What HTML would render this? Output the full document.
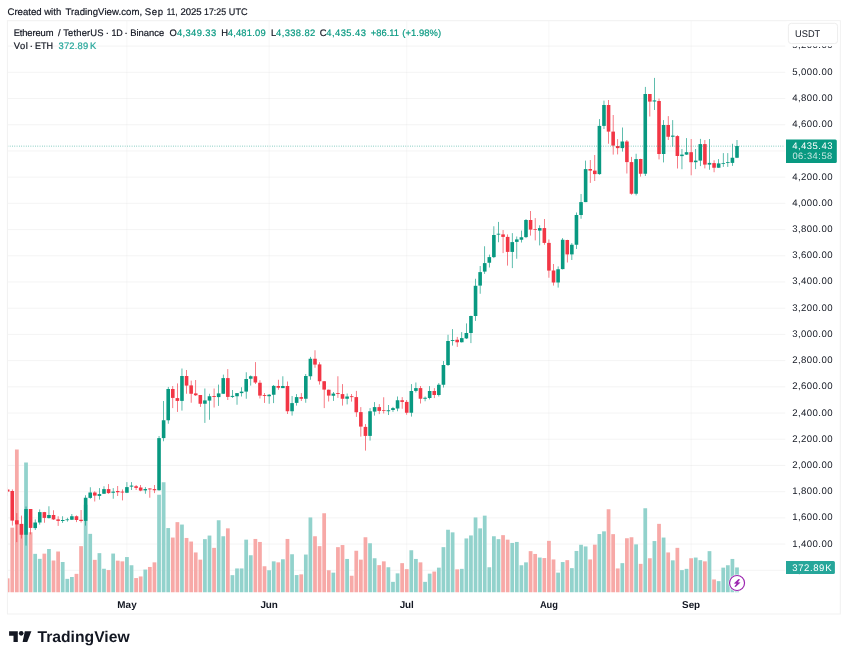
<!DOCTYPE html>
<html><head><meta charset="utf-8"><title>chart</title>
<style>
html,body{margin:0;padding:0;background:#fff;}
body{width:848px;height:660px;position:relative;overflow:hidden;}
svg{position:absolute;left:0;top:0;will-change:transform;}
text{font-family:"Liberation Sans",sans-serif;white-space:pre;text-rendering:geometricPrecision;stroke-width:0;paint-order:stroke;}
.hv text{stroke-width:0.2px;}
</style></head><body>
<svg width="848" height="660" viewBox="0 0 848 660">
<defs><clipPath id="cp"><rect x="7.4" y="20.6" width="833" height="593.4"/></clipPath></defs>
<g clip-path="url(#cp)">
<rect x="7.5" y="569.74" width="777.8" height="1.1" fill="rgba(0,0,0,0.043)"/>
<rect x="7.5" y="543.53" width="777.8" height="1.1" fill="rgba(0,0,0,0.043)"/>
<rect x="7.5" y="517.32" width="777.8" height="1.1" fill="rgba(0,0,0,0.043)"/>
<rect x="7.5" y="491.11" width="777.8" height="1.1" fill="rgba(0,0,0,0.043)"/>
<rect x="7.5" y="464.90" width="777.8" height="1.1" fill="rgba(0,0,0,0.043)"/>
<rect x="7.5" y="438.69" width="777.8" height="1.1" fill="rgba(0,0,0,0.043)"/>
<rect x="7.5" y="412.48" width="777.8" height="1.1" fill="rgba(0,0,0,0.043)"/>
<rect x="7.5" y="386.27" width="777.8" height="1.1" fill="rgba(0,0,0,0.043)"/>
<rect x="7.5" y="360.06" width="777.8" height="1.1" fill="rgba(0,0,0,0.043)"/>
<rect x="7.5" y="333.85" width="777.8" height="1.1" fill="rgba(0,0,0,0.043)"/>
<rect x="7.5" y="307.64" width="777.8" height="1.1" fill="rgba(0,0,0,0.043)"/>
<rect x="7.5" y="281.43" width="777.8" height="1.1" fill="rgba(0,0,0,0.043)"/>
<rect x="7.5" y="255.22" width="777.8" height="1.1" fill="rgba(0,0,0,0.043)"/>
<rect x="7.5" y="229.01" width="777.8" height="1.1" fill="rgba(0,0,0,0.043)"/>
<rect x="7.5" y="202.80" width="777.8" height="1.1" fill="rgba(0,0,0,0.043)"/>
<rect x="7.5" y="176.59" width="777.8" height="1.1" fill="rgba(0,0,0,0.043)"/>
<rect x="7.5" y="150.38" width="777.8" height="1.1" fill="rgba(0,0,0,0.043)"/>
<rect x="7.5" y="124.17" width="777.8" height="1.1" fill="rgba(0,0,0,0.043)"/>
<rect x="7.5" y="97.96" width="777.8" height="1.1" fill="rgba(0,0,0,0.043)"/>
<rect x="7.5" y="71.75" width="777.8" height="1.1" fill="rgba(0,0,0,0.043)"/>
<rect x="7.5" y="45.54" width="777.8" height="1.1" fill="rgba(0,0,0,0.043)"/>
<rect x="126.38" y="21" width="1.1" height="571.5" fill="rgba(0,0,0,0.031)"/>
<rect x="268.57" y="21" width="1.1" height="571.5" fill="rgba(0,0,0,0.031)"/>
<rect x="406.18" y="21" width="1.1" height="571.5" fill="rgba(0,0,0,0.031)"/>
<rect x="548.38" y="21" width="1.1" height="571.5" fill="rgba(0,0,0,0.031)"/>
<rect x="690.58" y="21" width="1.1" height="571.5" fill="rgba(0,0,0,0.031)"/>
<rect x="5.79" y="578.35" width="3.75" height="13.90" fill="#f7a9a7"/>
<rect x="10.38" y="527.65" width="3.75" height="64.60" fill="#f7a9a7"/>
<rect x="14.96" y="449.50" width="3.75" height="142.75" fill="#f7a9a7"/>
<rect x="19.55" y="523.75" width="3.75" height="68.50" fill="#f7a9a7"/>
<rect x="24.14" y="462.50" width="3.75" height="129.75" fill="#92d2cc"/>
<rect x="28.72" y="532.25" width="3.75" height="60.00" fill="#f7a9a7"/>
<rect x="33.31" y="553.85" width="3.75" height="38.40" fill="#92d2cc"/>
<rect x="37.90" y="558.85" width="3.75" height="33.40" fill="#92d2cc"/>
<rect x="42.48" y="553.65" width="3.75" height="38.60" fill="#f7a9a7"/>
<rect x="47.07" y="549.00" width="3.75" height="43.25" fill="#92d2cc"/>
<rect x="51.66" y="560.50" width="3.75" height="31.75" fill="#f7a9a7"/>
<rect x="56.24" y="551.50" width="3.75" height="40.75" fill="#f7a9a7"/>
<rect x="60.83" y="562.00" width="3.75" height="30.25" fill="#92d2cc"/>
<rect x="65.42" y="578.85" width="3.75" height="13.40" fill="#92d2cc"/>
<rect x="70.01" y="577.00" width="3.75" height="15.25" fill="#92d2cc"/>
<rect x="74.59" y="573.85" width="3.75" height="18.40" fill="#f7a9a7"/>
<rect x="79.18" y="546.15" width="3.75" height="46.10" fill="#f7a9a7"/>
<rect x="83.77" y="504.75" width="3.75" height="87.50" fill="#92d2cc"/>
<rect x="88.35" y="533.85" width="3.75" height="58.40" fill="#92d2cc"/>
<rect x="92.94" y="559.85" width="3.75" height="32.40" fill="#f7a9a7"/>
<rect x="97.53" y="553.15" width="3.75" height="39.10" fill="#92d2cc"/>
<rect x="102.11" y="568.75" width="3.75" height="23.50" fill="#92d2cc"/>
<rect x="106.70" y="570.05" width="3.75" height="22.20" fill="#f7a9a7"/>
<rect x="111.29" y="553.55" width="3.75" height="38.70" fill="#92d2cc"/>
<rect x="115.88" y="560.65" width="3.75" height="31.60" fill="#f7a9a7"/>
<rect x="120.46" y="561.35" width="3.75" height="30.90" fill="#f7a9a7"/>
<rect x="125.05" y="557.05" width="3.75" height="35.20" fill="#92d2cc"/>
<rect x="129.64" y="565.25" width="3.75" height="27.00" fill="#92d2cc"/>
<rect x="134.22" y="578.05" width="3.75" height="14.20" fill="#f7a9a7"/>
<rect x="138.81" y="576.45" width="3.75" height="15.80" fill="#f7a9a7"/>
<rect x="143.40" y="569.55" width="3.75" height="22.70" fill="#92d2cc"/>
<rect x="147.98" y="566.95" width="3.75" height="25.30" fill="#f7a9a7"/>
<rect x="152.57" y="562.35" width="3.75" height="29.90" fill="#f7a9a7"/>
<rect x="157.16" y="494.75" width="3.75" height="97.50" fill="#92d2cc"/>
<rect x="161.75" y="482.25" width="3.75" height="110.00" fill="#92d2cc"/>
<rect x="166.33" y="528.05" width="3.75" height="64.20" fill="#92d2cc"/>
<rect x="170.92" y="537.55" width="3.75" height="54.70" fill="#f7a9a7"/>
<rect x="175.51" y="522.15" width="3.75" height="70.10" fill="#f7a9a7"/>
<rect x="180.09" y="524.55" width="3.75" height="67.70" fill="#92d2cc"/>
<rect x="184.68" y="537.95" width="3.75" height="54.30" fill="#f7a9a7"/>
<rect x="189.27" y="541.55" width="3.75" height="50.70" fill="#f7a9a7"/>
<rect x="193.85" y="552.45" width="3.75" height="39.80" fill="#f7a9a7"/>
<rect x="198.44" y="559.65" width="3.75" height="32.60" fill="#f7a9a7"/>
<rect x="203.03" y="539.15" width="3.75" height="53.10" fill="#92d2cc"/>
<rect x="207.62" y="535.55" width="3.75" height="56.70" fill="#92d2cc"/>
<rect x="212.20" y="547.85" width="3.75" height="44.40" fill="#f7a9a7"/>
<rect x="216.79" y="520.25" width="3.75" height="72.00" fill="#92d2cc"/>
<rect x="221.38" y="536.25" width="3.75" height="56.00" fill="#92d2cc"/>
<rect x="225.96" y="528.35" width="3.75" height="63.90" fill="#f7a9a7"/>
<rect x="230.55" y="575.15" width="3.75" height="17.10" fill="#92d2cc"/>
<rect x="235.14" y="568.45" width="3.75" height="23.80" fill="#92d2cc"/>
<rect x="239.72" y="568.45" width="3.75" height="23.80" fill="#92d2cc"/>
<rect x="244.31" y="539.65" width="3.75" height="52.60" fill="#92d2cc"/>
<rect x="248.90" y="555.25" width="3.75" height="37.00" fill="#92d2cc"/>
<rect x="253.49" y="538.95" width="3.75" height="53.30" fill="#f7a9a7"/>
<rect x="258.07" y="541.95" width="3.75" height="50.30" fill="#f7a9a7"/>
<rect x="262.66" y="566.25" width="3.75" height="26.00" fill="#f7a9a7"/>
<rect x="267.25" y="570.25" width="3.75" height="22.00" fill="#92d2cc"/>
<rect x="271.83" y="561.35" width="3.75" height="30.90" fill="#92d2cc"/>
<rect x="276.42" y="562.35" width="3.75" height="29.90" fill="#f7a9a7"/>
<rect x="281.01" y="559.25" width="3.75" height="33.00" fill="#92d2cc"/>
<rect x="285.59" y="538.95" width="3.75" height="53.30" fill="#f7a9a7"/>
<rect x="290.18" y="554.25" width="3.75" height="38.00" fill="#92d2cc"/>
<rect x="294.77" y="575.05" width="3.75" height="17.20" fill="#92d2cc"/>
<rect x="299.36" y="574.35" width="3.75" height="17.90" fill="#f7a9a7"/>
<rect x="303.94" y="554.55" width="3.75" height="37.70" fill="#92d2cc"/>
<rect x="308.53" y="517.45" width="3.75" height="74.80" fill="#92d2cc"/>
<rect x="313.12" y="536.25" width="3.75" height="56.00" fill="#f7a9a7"/>
<rect x="317.70" y="546.15" width="3.75" height="46.10" fill="#f7a9a7"/>
<rect x="322.29" y="513.25" width="3.75" height="79.00" fill="#f7a9a7"/>
<rect x="326.88" y="570.25" width="3.75" height="22.00" fill="#f7a9a7"/>
<rect x="331.46" y="572.65" width="3.75" height="19.60" fill="#92d2cc"/>
<rect x="336.05" y="547.15" width="3.75" height="45.10" fill="#f7a9a7"/>
<rect x="340.64" y="545.05" width="3.75" height="47.20" fill="#f7a9a7"/>
<rect x="345.23" y="558.95" width="3.75" height="33.30" fill="#92d2cc"/>
<rect x="349.81" y="575.75" width="3.75" height="16.50" fill="#f7a9a7"/>
<rect x="354.40" y="550.75" width="3.75" height="41.50" fill="#f7a9a7"/>
<rect x="358.99" y="559.65" width="3.75" height="32.60" fill="#f7a9a7"/>
<rect x="363.57" y="537.25" width="3.75" height="55.00" fill="#f7a9a7"/>
<rect x="368.16" y="543.25" width="3.75" height="49.00" fill="#92d2cc"/>
<rect x="372.75" y="558.25" width="3.75" height="34.00" fill="#92d2cc"/>
<rect x="377.33" y="565.15" width="3.75" height="27.10" fill="#f7a9a7"/>
<rect x="381.92" y="561.35" width="3.75" height="30.90" fill="#f7a9a7"/>
<rect x="386.51" y="567.25" width="3.75" height="25.00" fill="#92d2cc"/>
<rect x="391.10" y="581.85" width="3.75" height="10.40" fill="#92d2cc"/>
<rect x="395.68" y="573.35" width="3.75" height="18.90" fill="#92d2cc"/>
<rect x="400.27" y="563.15" width="3.75" height="29.10" fill="#f7a9a7"/>
<rect x="404.86" y="569.15" width="3.75" height="23.10" fill="#f7a9a7"/>
<rect x="409.44" y="550.25" width="3.75" height="42.00" fill="#92d2cc"/>
<rect x="414.03" y="558.95" width="3.75" height="33.30" fill="#92d2cc"/>
<rect x="418.62" y="562.35" width="3.75" height="29.90" fill="#f7a9a7"/>
<rect x="423.20" y="581.85" width="3.75" height="10.40" fill="#92d2cc"/>
<rect x="427.79" y="573.65" width="3.75" height="18.60" fill="#92d2cc"/>
<rect x="432.38" y="571.55" width="3.75" height="20.70" fill="#f7a9a7"/>
<rect x="436.97" y="567.65" width="3.75" height="24.60" fill="#92d2cc"/>
<rect x="441.55" y="547.15" width="3.75" height="45.10" fill="#92d2cc"/>
<rect x="446.14" y="529.75" width="3.75" height="62.50" fill="#92d2cc"/>
<rect x="450.73" y="532.35" width="3.75" height="59.90" fill="#92d2cc"/>
<rect x="455.31" y="569.35" width="3.75" height="22.90" fill="#f7a9a7"/>
<rect x="459.90" y="568.85" width="3.75" height="23.40" fill="#92d2cc"/>
<rect x="464.49" y="538.45" width="3.75" height="53.80" fill="#92d2cc"/>
<rect x="469.07" y="535.45" width="3.75" height="56.80" fill="#92d2cc"/>
<rect x="473.66" y="517.45" width="3.75" height="74.80" fill="#92d2cc"/>
<rect x="478.25" y="528.35" width="3.75" height="63.90" fill="#92d2cc"/>
<rect x="482.84" y="515.65" width="3.75" height="76.60" fill="#92d2cc"/>
<rect x="487.42" y="567.25" width="3.75" height="25.00" fill="#92d2cc"/>
<rect x="492.01" y="536.25" width="3.75" height="56.00" fill="#92d2cc"/>
<rect x="496.60" y="539.15" width="3.75" height="53.10" fill="#92d2cc"/>
<rect x="501.18" y="535.15" width="3.75" height="57.10" fill="#f7a9a7"/>
<rect x="505.77" y="539.65" width="3.75" height="52.60" fill="#f7a9a7"/>
<rect x="510.36" y="542.95" width="3.75" height="49.30" fill="#92d2cc"/>
<rect x="514.94" y="541.95" width="3.75" height="50.30" fill="#92d2cc"/>
<rect x="519.53" y="565.25" width="3.75" height="27.00" fill="#92d2cc"/>
<rect x="524.12" y="562.35" width="3.75" height="29.90" fill="#92d2cc"/>
<rect x="528.71" y="551.15" width="3.75" height="41.10" fill="#f7a9a7"/>
<rect x="533.29" y="553.95" width="3.75" height="38.30" fill="#f7a9a7"/>
<rect x="537.88" y="557.55" width="3.75" height="34.70" fill="#92d2cc"/>
<rect x="542.47" y="558.05" width="3.75" height="34.20" fill="#f7a9a7"/>
<rect x="547.05" y="540.85" width="3.75" height="51.40" fill="#f7a9a7"/>
<rect x="551.64" y="559.45" width="3.75" height="32.80" fill="#f7a9a7"/>
<rect x="556.23" y="572.65" width="3.75" height="19.60" fill="#92d2cc"/>
<rect x="560.81" y="562.05" width="3.75" height="30.20" fill="#92d2cc"/>
<rect x="565.40" y="560.15" width="3.75" height="32.10" fill="#f7a9a7"/>
<rect x="569.99" y="568.15" width="3.75" height="24.10" fill="#92d2cc"/>
<rect x="574.58" y="550.95" width="3.75" height="41.30" fill="#92d2cc"/>
<rect x="579.16" y="544.75" width="3.75" height="47.50" fill="#92d2cc"/>
<rect x="583.75" y="546.45" width="3.75" height="45.80" fill="#92d2cc"/>
<rect x="588.34" y="559.45" width="3.75" height="32.80" fill="#f7a9a7"/>
<rect x="592.92" y="544.65" width="3.75" height="47.60" fill="#f7a9a7"/>
<rect x="597.51" y="534.05" width="3.75" height="58.20" fill="#92d2cc"/>
<rect x="602.10" y="531.35" width="3.75" height="60.90" fill="#92d2cc"/>
<rect x="606.68" y="509.25" width="3.75" height="83.00" fill="#f7a9a7"/>
<rect x="611.27" y="534.15" width="3.75" height="58.10" fill="#f7a9a7"/>
<rect x="615.86" y="568.45" width="3.75" height="23.80" fill="#f7a9a7"/>
<rect x="620.45" y="563.15" width="3.75" height="29.10" fill="#92d2cc"/>
<rect x="625.03" y="538.25" width="3.75" height="54.00" fill="#f7a9a7"/>
<rect x="629.62" y="537.25" width="3.75" height="55.00" fill="#f7a9a7"/>
<rect x="634.21" y="544.35" width="3.75" height="47.90" fill="#92d2cc"/>
<rect x="638.79" y="563.85" width="3.75" height="28.40" fill="#f7a9a7"/>
<rect x="643.38" y="508.25" width="3.75" height="84.00" fill="#92d2cc"/>
<rect x="647.97" y="558.25" width="3.75" height="34.00" fill="#f7a9a7"/>
<rect x="652.55" y="541.05" width="3.75" height="51.20" fill="#92d2cc"/>
<rect x="657.14" y="523.85" width="3.75" height="68.40" fill="#f7a9a7"/>
<rect x="661.73" y="537.55" width="3.75" height="54.70" fill="#92d2cc"/>
<rect x="666.32" y="552.45" width="3.75" height="39.80" fill="#f7a9a7"/>
<rect x="670.90" y="560.35" width="3.75" height="31.90" fill="#92d2cc"/>
<rect x="675.49" y="547.85" width="3.75" height="44.40" fill="#f7a9a7"/>
<rect x="680.08" y="570.10" width="3.75" height="22.15" fill="#92d2cc"/>
<rect x="684.66" y="568.85" width="3.75" height="23.40" fill="#92d2cc"/>
<rect x="689.25" y="558.25" width="3.75" height="34.00" fill="#f7a9a7"/>
<rect x="693.84" y="557.55" width="3.75" height="34.70" fill="#92d2cc"/>
<rect x="698.42" y="560.15" width="3.75" height="32.10" fill="#92d2cc"/>
<rect x="703.01" y="561.35" width="3.75" height="30.90" fill="#f7a9a7"/>
<rect x="707.60" y="551.15" width="3.75" height="41.10" fill="#92d2cc"/>
<rect x="712.19" y="579.45" width="3.75" height="12.80" fill="#f7a9a7"/>
<rect x="716.77" y="581.15" width="3.75" height="11.10" fill="#92d2cc"/>
<rect x="721.36" y="567.65" width="3.75" height="24.60" fill="#92d2cc"/>
<rect x="725.95" y="565.25" width="3.75" height="27.00" fill="#92d2cc"/>
<rect x="730.53" y="558.95" width="3.75" height="33.30" fill="#92d2cc"/>
<rect x="735.12" y="567.45" width="3.75" height="24.80" fill="#92d2cc"/>
<rect x="7.34" y="487.50" width="0.65" height="8.50" fill="#f23645"/>
<rect x="5.86" y="489.50" width="3.6" height="2.10" fill="#f23645"/>
<rect x="11.93" y="489.40" width="0.65" height="36.20" fill="#f23645"/>
<rect x="10.45" y="491.00" width="3.6" height="29.60" fill="#f23645"/>
<rect x="16.51" y="513.10" width="0.65" height="29.00" fill="#f23645"/>
<rect x="15.04" y="520.25" width="3.6" height="4.15" fill="#f23645"/>
<rect x="21.10" y="515.60" width="0.65" height="22.90" fill="#f23645"/>
<rect x="19.62" y="524.00" width="3.6" height="10.75" fill="#f23645"/>
<rect x="25.69" y="506.50" width="0.65" height="39.10" fill="#089981"/>
<rect x="24.21" y="509.00" width="3.6" height="25.75" fill="#089981"/>
<rect x="30.27" y="509.00" width="0.65" height="25.40" fill="#f23645"/>
<rect x="28.80" y="509.00" width="3.6" height="18.90" fill="#f23645"/>
<rect x="34.86" y="519.40" width="0.65" height="10.60" fill="#089981"/>
<rect x="33.39" y="522.50" width="3.6" height="5.60" fill="#089981"/>
<rect x="39.45" y="509.40" width="0.65" height="15.20" fill="#089981"/>
<rect x="37.97" y="512.10" width="3.6" height="10.40" fill="#089981"/>
<rect x="44.03" y="511.90" width="0.65" height="10.85" fill="#f23645"/>
<rect x="42.56" y="512.10" width="3.6" height="5.80" fill="#f23645"/>
<rect x="48.62" y="506.25" width="0.65" height="12.25" fill="#089981"/>
<rect x="47.15" y="515.00" width="3.6" height="3.10" fill="#089981"/>
<rect x="53.21" y="510.25" width="0.65" height="9.75" fill="#f23645"/>
<rect x="51.73" y="515.00" width="3.6" height="4.40" fill="#f23645"/>
<rect x="57.79" y="516.25" width="0.65" height="9.65" fill="#f23645"/>
<rect x="56.32" y="519.40" width="3.6" height="1.50" fill="#f23645"/>
<rect x="62.38" y="516.25" width="0.65" height="6.65" fill="#089981"/>
<rect x="60.91" y="520.00" width="3.6" height="1.00" fill="#089981"/>
<rect x="66.97" y="517.75" width="0.65" height="3.85" fill="#089981"/>
<rect x="65.49" y="519.40" width="3.6" height="0.75" fill="#089981"/>
<rect x="71.56" y="514.00" width="0.65" height="6.00" fill="#089981"/>
<rect x="70.08" y="516.25" width="3.6" height="3.50" fill="#089981"/>
<rect x="76.14" y="515.40" width="0.65" height="6.70" fill="#f23645"/>
<rect x="74.67" y="516.25" width="3.6" height="3.75" fill="#f23645"/>
<rect x="80.73" y="510.00" width="0.65" height="12.50" fill="#f23645"/>
<rect x="79.25" y="519.75" width="3.6" height="1.25" fill="#f23645"/>
<rect x="85.32" y="495.25" width="0.65" height="30.35" fill="#089981"/>
<rect x="83.84" y="497.75" width="3.6" height="23.15" fill="#089981"/>
<rect x="89.90" y="487.25" width="0.65" height="11.50" fill="#089981"/>
<rect x="88.43" y="492.50" width="3.6" height="5.40" fill="#089981"/>
<rect x="94.49" y="491.25" width="0.65" height="10.25" fill="#f23645"/>
<rect x="93.02" y="492.50" width="3.6" height="3.10" fill="#f23645"/>
<rect x="99.08" y="488.10" width="0.65" height="11.50" fill="#089981"/>
<rect x="97.60" y="494.10" width="3.6" height="1.80" fill="#089981"/>
<rect x="103.66" y="486.25" width="0.65" height="7.75" fill="#089981"/>
<rect x="102.19" y="489.10" width="3.6" height="4.65" fill="#089981"/>
<rect x="108.25" y="484.10" width="0.65" height="9.65" fill="#f23645"/>
<rect x="106.78" y="489.10" width="3.6" height="4.00" fill="#f23645"/>
<rect x="112.84" y="488.10" width="0.65" height="10.65" fill="#089981"/>
<rect x="111.36" y="491.60" width="3.6" height="1.15" fill="#089981"/>
<rect x="117.43" y="486.00" width="0.65" height="10.00" fill="#f23645"/>
<rect x="115.95" y="491.00" width="3.6" height="1.25" fill="#f23645"/>
<rect x="122.01" y="489.40" width="0.65" height="11.00" fill="#f23645"/>
<rect x="120.54" y="491.60" width="3.6" height="0.90" fill="#f23645"/>
<rect x="126.60" y="482.10" width="0.65" height="11.00" fill="#089981"/>
<rect x="125.12" y="487.10" width="3.6" height="5.65" fill="#089981"/>
<rect x="131.19" y="482.10" width="0.65" height="7.90" fill="#089981"/>
<rect x="129.71" y="485.60" width="3.6" height="1.00" fill="#089981"/>
<rect x="135.77" y="485.00" width="0.65" height="5.00" fill="#f23645"/>
<rect x="134.30" y="486.25" width="3.6" height="1.65" fill="#f23645"/>
<rect x="140.36" y="485.00" width="0.65" height="6.25" fill="#f23645"/>
<rect x="138.89" y="487.50" width="3.6" height="3.10" fill="#f23645"/>
<rect x="144.95" y="487.10" width="0.65" height="6.65" fill="#089981"/>
<rect x="143.47" y="489.00" width="3.6" height="1.40" fill="#089981"/>
<rect x="149.53" y="488.10" width="0.65" height="9.65" fill="#f23645"/>
<rect x="148.06" y="488.50" width="3.6" height="0.90" fill="#f23645"/>
<rect x="154.12" y="485.00" width="0.65" height="8.10" fill="#f23645"/>
<rect x="152.65" y="489.10" width="3.6" height="1.15" fill="#f23645"/>
<rect x="158.71" y="436.00" width="0.65" height="54.60" fill="#089981"/>
<rect x="157.23" y="438.10" width="3.6" height="52.15" fill="#089981"/>
<rect x="163.30" y="401.00" width="0.65" height="40.25" fill="#089981"/>
<rect x="161.82" y="420.25" width="3.6" height="17.85" fill="#089981"/>
<rect x="167.88" y="386.90" width="0.65" height="36.85" fill="#089981"/>
<rect x="166.41" y="389.00" width="3.6" height="31.25" fill="#089981"/>
<rect x="172.47" y="386.00" width="0.65" height="22.10" fill="#f23645"/>
<rect x="170.99" y="389.00" width="3.6" height="8.90" fill="#f23645"/>
<rect x="177.06" y="383.40" width="0.65" height="28.50" fill="#f23645"/>
<rect x="175.58" y="398.10" width="3.6" height="2.80" fill="#f23645"/>
<rect x="181.64" y="368.50" width="0.65" height="42.10" fill="#089981"/>
<rect x="180.17" y="376.00" width="3.6" height="24.90" fill="#089981"/>
<rect x="186.23" y="370.00" width="0.65" height="23.75" fill="#f23645"/>
<rect x="184.76" y="376.00" width="3.6" height="9.60" fill="#f23645"/>
<rect x="190.82" y="380.60" width="0.65" height="22.15" fill="#f23645"/>
<rect x="189.34" y="385.40" width="3.6" height="8.35" fill="#f23645"/>
<rect x="195.41" y="380.00" width="0.65" height="16.00" fill="#f23645"/>
<rect x="193.93" y="393.40" width="3.6" height="1.85" fill="#f23645"/>
<rect x="199.99" y="395.00" width="0.65" height="11.90" fill="#f23645"/>
<rect x="198.52" y="395.00" width="3.6" height="8.75" fill="#f23645"/>
<rect x="204.58" y="388.50" width="0.65" height="34.40" fill="#089981"/>
<rect x="203.10" y="400.40" width="3.6" height="3.35" fill="#089981"/>
<rect x="209.17" y="393.75" width="0.65" height="26.00" fill="#089981"/>
<rect x="207.69" y="396.25" width="3.6" height="4.35" fill="#089981"/>
<rect x="213.75" y="388.50" width="0.65" height="19.00" fill="#f23645"/>
<rect x="212.28" y="396.00" width="3.6" height="0.90" fill="#f23645"/>
<rect x="218.34" y="384.60" width="0.65" height="21.30" fill="#089981"/>
<rect x="216.86" y="393.40" width="3.6" height="3.70" fill="#089981"/>
<rect x="222.93" y="374.60" width="0.65" height="19.40" fill="#089981"/>
<rect x="221.45" y="378.10" width="3.6" height="15.65" fill="#089981"/>
<rect x="227.51" y="369.10" width="0.65" height="30.90" fill="#f23645"/>
<rect x="226.04" y="378.10" width="3.6" height="18.80" fill="#f23645"/>
<rect x="232.10" y="390.00" width="0.65" height="7.90" fill="#089981"/>
<rect x="230.63" y="395.90" width="3.6" height="1.00" fill="#089981"/>
<rect x="236.69" y="393.10" width="0.65" height="11.65" fill="#089981"/>
<rect x="235.21" y="393.10" width="3.6" height="3.15" fill="#089981"/>
<rect x="241.28" y="387.25" width="0.65" height="9.25" fill="#089981"/>
<rect x="239.80" y="391.60" width="3.6" height="1.50" fill="#089981"/>
<rect x="245.86" y="372.25" width="0.65" height="26.50" fill="#089981"/>
<rect x="244.39" y="379.00" width="3.6" height="12.60" fill="#089981"/>
<rect x="250.45" y="375.40" width="0.65" height="10.20" fill="#089981"/>
<rect x="248.97" y="376.25" width="3.6" height="2.50" fill="#089981"/>
<rect x="255.04" y="362.10" width="0.65" height="21.90" fill="#f23645"/>
<rect x="253.56" y="376.25" width="3.6" height="6.25" fill="#f23645"/>
<rect x="259.62" y="380.25" width="0.65" height="18.25" fill="#f23645"/>
<rect x="258.15" y="382.75" width="3.6" height="12.85" fill="#f23645"/>
<rect x="264.21" y="393.10" width="0.65" height="9.80" fill="#f23645"/>
<rect x="262.73" y="395.00" width="3.6" height="0.90" fill="#f23645"/>
<rect x="268.80" y="394.00" width="0.65" height="9.75" fill="#089981"/>
<rect x="267.32" y="394.75" width="3.6" height="1.50" fill="#089981"/>
<rect x="273.38" y="385.00" width="0.65" height="18.10" fill="#089981"/>
<rect x="271.91" y="385.90" width="3.6" height="8.85" fill="#089981"/>
<rect x="277.97" y="379.75" width="0.65" height="10.00" fill="#f23645"/>
<rect x="276.50" y="386.00" width="3.6" height="1.75" fill="#f23645"/>
<rect x="282.56" y="376.25" width="0.65" height="11.85" fill="#089981"/>
<rect x="281.08" y="386.00" width="3.6" height="2.10" fill="#089981"/>
<rect x="287.14" y="381.50" width="0.65" height="32.50" fill="#f23645"/>
<rect x="285.67" y="386.00" width="3.6" height="25.25" fill="#f23645"/>
<rect x="291.73" y="396.00" width="0.65" height="19.60" fill="#089981"/>
<rect x="290.26" y="403.10" width="3.6" height="8.15" fill="#089981"/>
<rect x="296.32" y="394.10" width="0.65" height="11.50" fill="#089981"/>
<rect x="294.84" y="397.10" width="3.6" height="5.80" fill="#089981"/>
<rect x="300.91" y="393.10" width="0.65" height="7.90" fill="#f23645"/>
<rect x="299.43" y="397.10" width="3.6" height="1.65" fill="#f23645"/>
<rect x="305.49" y="374.00" width="0.65" height="28.75" fill="#089981"/>
<rect x="304.02" y="376.00" width="3.6" height="22.75" fill="#089981"/>
<rect x="310.08" y="356.90" width="0.65" height="22.85" fill="#089981"/>
<rect x="308.60" y="358.75" width="3.6" height="17.50" fill="#089981"/>
<rect x="314.67" y="350.25" width="0.65" height="17.50" fill="#f23645"/>
<rect x="313.19" y="358.75" width="3.6" height="5.85" fill="#f23645"/>
<rect x="319.25" y="362.25" width="0.65" height="22.35" fill="#f23645"/>
<rect x="317.78" y="364.40" width="3.6" height="16.85" fill="#f23645"/>
<rect x="323.84" y="381.00" width="0.65" height="27.10" fill="#f23645"/>
<rect x="322.37" y="381.25" width="3.6" height="8.35" fill="#f23645"/>
<rect x="328.43" y="389.60" width="0.65" height="11.90" fill="#f23645"/>
<rect x="326.95" y="389.75" width="3.6" height="5.85" fill="#f23645"/>
<rect x="333.01" y="392.00" width="0.65" height="8.90" fill="#089981"/>
<rect x="331.54" y="393.60" width="3.6" height="2.15" fill="#089981"/>
<rect x="337.60" y="376.25" width="0.65" height="21.65" fill="#f23645"/>
<rect x="336.13" y="393.10" width="3.6" height="0.90" fill="#f23645"/>
<rect x="342.19" y="384.10" width="0.65" height="21.50" fill="#f23645"/>
<rect x="340.71" y="394.10" width="3.6" height="4.65" fill="#f23645"/>
<rect x="346.78" y="393.50" width="0.65" height="10.90" fill="#089981"/>
<rect x="345.30" y="396.50" width="3.6" height="2.25" fill="#089981"/>
<rect x="351.36" y="394.00" width="0.65" height="7.60" fill="#f23645"/>
<rect x="349.89" y="396.25" width="3.6" height="0.85" fill="#f23645"/>
<rect x="355.95" y="390.90" width="0.65" height="26.00" fill="#f23645"/>
<rect x="354.47" y="397.10" width="3.6" height="15.15" fill="#f23645"/>
<rect x="360.54" y="407.10" width="0.65" height="29.50" fill="#f23645"/>
<rect x="359.06" y="412.10" width="3.6" height="14.50" fill="#f23645"/>
<rect x="365.12" y="424.10" width="0.65" height="26.50" fill="#f23645"/>
<rect x="363.65" y="426.90" width="3.6" height="9.00" fill="#f23645"/>
<rect x="369.71" y="408.10" width="0.65" height="32.50" fill="#089981"/>
<rect x="368.24" y="411.25" width="3.6" height="24.65" fill="#089981"/>
<rect x="374.30" y="402.10" width="0.65" height="13.50" fill="#089981"/>
<rect x="372.82" y="407.10" width="3.6" height="4.50" fill="#089981"/>
<rect x="378.88" y="404.10" width="0.65" height="10.00" fill="#f23645"/>
<rect x="377.41" y="407.10" width="3.6" height="3.80" fill="#f23645"/>
<rect x="383.47" y="397.25" width="0.65" height="16.25" fill="#f23645"/>
<rect x="382.00" y="410.25" width="3.6" height="0.75" fill="#f23645"/>
<rect x="388.06" y="405.00" width="0.65" height="10.00" fill="#089981"/>
<rect x="386.58" y="410.25" width="3.6" height="1.00" fill="#089981"/>
<rect x="392.65" y="406.90" width="0.65" height="5.00" fill="#089981"/>
<rect x="391.17" y="408.10" width="3.6" height="1.90" fill="#089981"/>
<rect x="397.23" y="396.50" width="0.65" height="14.75" fill="#089981"/>
<rect x="395.76" y="400.25" width="3.6" height="8.25" fill="#089981"/>
<rect x="401.82" y="397.10" width="0.65" height="11.65" fill="#f23645"/>
<rect x="400.34" y="400.25" width="3.6" height="1.65" fill="#f23645"/>
<rect x="406.41" y="400.00" width="0.65" height="14.75" fill="#f23645"/>
<rect x="404.93" y="401.90" width="3.6" height="10.85" fill="#f23645"/>
<rect x="410.99" y="384.10" width="0.65" height="32.50" fill="#089981"/>
<rect x="409.52" y="391.00" width="3.6" height="21.75" fill="#089981"/>
<rect x="415.58" y="382.50" width="0.65" height="10.00" fill="#089981"/>
<rect x="414.11" y="388.10" width="3.6" height="2.80" fill="#089981"/>
<rect x="420.17" y="386.00" width="0.65" height="17.50" fill="#f23645"/>
<rect x="418.69" y="388.10" width="3.6" height="10.65" fill="#f23645"/>
<rect x="424.75" y="396.50" width="0.65" height="4.75" fill="#089981"/>
<rect x="423.28" y="397.75" width="3.6" height="1.00" fill="#089981"/>
<rect x="429.34" y="386.10" width="0.65" height="13.30" fill="#089981"/>
<rect x="427.87" y="391.00" width="3.6" height="7.00" fill="#089981"/>
<rect x="433.93" y="388.10" width="0.65" height="10.00" fill="#f23645"/>
<rect x="432.45" y="391.00" width="3.6" height="4.00" fill="#f23645"/>
<rect x="438.52" y="383.10" width="0.65" height="13.40" fill="#089981"/>
<rect x="437.04" y="384.75" width="3.6" height="10.25" fill="#089981"/>
<rect x="443.10" y="361.00" width="0.65" height="26.50" fill="#089981"/>
<rect x="441.63" y="365.00" width="3.6" height="19.75" fill="#089981"/>
<rect x="447.69" y="334.75" width="0.65" height="31.25" fill="#089981"/>
<rect x="446.21" y="341.00" width="3.6" height="24.00" fill="#089981"/>
<rect x="452.28" y="329.10" width="0.65" height="16.50" fill="#089981"/>
<rect x="450.80" y="340.00" width="3.6" height="0.90" fill="#089981"/>
<rect x="456.86" y="336.90" width="0.65" height="10.00" fill="#f23645"/>
<rect x="455.39" y="339.75" width="3.6" height="2.50" fill="#f23645"/>
<rect x="461.45" y="332.10" width="0.65" height="10.40" fill="#089981"/>
<rect x="459.98" y="338.10" width="3.6" height="4.15" fill="#089981"/>
<rect x="466.04" y="323.40" width="0.65" height="15.60" fill="#089981"/>
<rect x="464.56" y="333.00" width="3.6" height="5.40" fill="#089981"/>
<rect x="470.62" y="315.60" width="0.65" height="27.50" fill="#089981"/>
<rect x="469.15" y="316.00" width="3.6" height="17.00" fill="#089981"/>
<rect x="475.21" y="278.75" width="0.65" height="42.15" fill="#089981"/>
<rect x="473.74" y="285.80" width="3.6" height="30.20" fill="#089981"/>
<rect x="479.80" y="266.00" width="0.65" height="27.75" fill="#089981"/>
<rect x="478.32" y="272.10" width="3.6" height="13.50" fill="#089981"/>
<rect x="484.39" y="246.25" width="0.65" height="27.65" fill="#089981"/>
<rect x="482.91" y="263.10" width="3.6" height="8.50" fill="#089981"/>
<rect x="488.97" y="254.60" width="0.65" height="12.90" fill="#089981"/>
<rect x="487.50" y="257.10" width="3.6" height="5.65" fill="#089981"/>
<rect x="493.56" y="226.25" width="0.65" height="31.85" fill="#089981"/>
<rect x="492.08" y="235.00" width="3.6" height="22.10" fill="#089981"/>
<rect x="498.15" y="221.90" width="0.65" height="20.35" fill="#089981"/>
<rect x="496.67" y="233.75" width="3.6" height="0.85" fill="#089981"/>
<rect x="502.73" y="230.00" width="0.65" height="23.10" fill="#f23645"/>
<rect x="501.26" y="234.40" width="3.6" height="2.50" fill="#f23645"/>
<rect x="507.32" y="234.40" width="0.65" height="31.20" fill="#f23645"/>
<rect x="505.85" y="236.90" width="3.6" height="15.00" fill="#f23645"/>
<rect x="511.91" y="233.10" width="0.65" height="35.00" fill="#089981"/>
<rect x="510.43" y="242.10" width="3.6" height="9.80" fill="#089981"/>
<rect x="516.49" y="236.50" width="0.65" height="22.25" fill="#089981"/>
<rect x="515.02" y="239.40" width="3.6" height="2.50" fill="#089981"/>
<rect x="521.08" y="230.60" width="0.65" height="11.90" fill="#089981"/>
<rect x="519.61" y="237.25" width="3.6" height="2.50" fill="#089981"/>
<rect x="525.67" y="219.00" width="0.65" height="19.10" fill="#089981"/>
<rect x="524.19" y="220.00" width="3.6" height="17.10" fill="#089981"/>
<rect x="530.26" y="211.00" width="0.65" height="24.60" fill="#f23645"/>
<rect x="528.78" y="220.00" width="3.6" height="9.60" fill="#f23645"/>
<rect x="534.84" y="218.10" width="0.65" height="22.30" fill="#f23645"/>
<rect x="533.37" y="229.00" width="3.6" height="0.75" fill="#f23645"/>
<rect x="539.43" y="225.25" width="0.65" height="20.15" fill="#089981"/>
<rect x="537.96" y="228.10" width="3.6" height="2.50" fill="#089981"/>
<rect x="544.02" y="219.00" width="0.65" height="25.75" fill="#f23645"/>
<rect x="542.54" y="228.10" width="3.6" height="14.80" fill="#f23645"/>
<rect x="548.60" y="239.40" width="0.65" height="38.35" fill="#f23645"/>
<rect x="547.13" y="242.90" width="3.6" height="27.70" fill="#f23645"/>
<rect x="553.19" y="264.00" width="0.65" height="21.60" fill="#f23645"/>
<rect x="551.72" y="270.50" width="3.6" height="12.00" fill="#f23645"/>
<rect x="557.78" y="266.40" width="0.65" height="21.20" fill="#089981"/>
<rect x="556.30" y="269.25" width="3.6" height="13.25" fill="#089981"/>
<rect x="562.36" y="238.10" width="0.65" height="31.30" fill="#089981"/>
<rect x="560.89" y="239.75" width="3.6" height="29.35" fill="#089981"/>
<rect x="566.95" y="239.75" width="0.65" height="22.75" fill="#f23645"/>
<rect x="565.48" y="240.00" width="3.6" height="14.40" fill="#f23645"/>
<rect x="571.54" y="243.10" width="0.65" height="16.90" fill="#089981"/>
<rect x="570.06" y="244.75" width="3.6" height="9.65" fill="#089981"/>
<rect x="576.13" y="212.50" width="0.65" height="36.50" fill="#089981"/>
<rect x="574.65" y="215.00" width="3.6" height="29.75" fill="#089981"/>
<rect x="580.71" y="194.00" width="0.65" height="24.75" fill="#089981"/>
<rect x="579.24" y="202.10" width="3.6" height="12.90" fill="#089981"/>
<rect x="585.30" y="160.60" width="0.65" height="41.50" fill="#089981"/>
<rect x="583.83" y="169.10" width="3.6" height="33.00" fill="#089981"/>
<rect x="589.89" y="160.00" width="0.65" height="22.90" fill="#f23645"/>
<rect x="588.41" y="169.00" width="3.6" height="1.60" fill="#f23645"/>
<rect x="594.47" y="155.00" width="0.65" height="26.00" fill="#f23645"/>
<rect x="593.00" y="170.60" width="3.6" height="3.50" fill="#f23645"/>
<rect x="599.06" y="119.10" width="0.65" height="55.65" fill="#089981"/>
<rect x="597.59" y="125.90" width="3.6" height="48.20" fill="#089981"/>
<rect x="603.65" y="100.60" width="0.65" height="28.40" fill="#089981"/>
<rect x="602.17" y="105.00" width="3.6" height="20.90" fill="#089981"/>
<rect x="608.23" y="100.00" width="0.65" height="43.75" fill="#f23645"/>
<rect x="606.76" y="105.00" width="3.6" height="26.60" fill="#f23645"/>
<rect x="612.82" y="115.00" width="0.65" height="39.60" fill="#f23645"/>
<rect x="611.35" y="131.60" width="3.6" height="14.00" fill="#f23645"/>
<rect x="617.41" y="139.10" width="0.65" height="15.30" fill="#f23645"/>
<rect x="615.93" y="146.00" width="3.6" height="2.10" fill="#f23645"/>
<rect x="622.00" y="127.50" width="0.65" height="24.10" fill="#089981"/>
<rect x="620.52" y="141.50" width="3.6" height="6.60" fill="#089981"/>
<rect x="626.58" y="140.00" width="0.65" height="33.50" fill="#f23645"/>
<rect x="625.11" y="141.50" width="3.6" height="20.60" fill="#f23645"/>
<rect x="631.17" y="156.90" width="0.65" height="37.85" fill="#f23645"/>
<rect x="629.70" y="162.10" width="3.6" height="31.65" fill="#f23645"/>
<rect x="635.76" y="153.75" width="0.65" height="41.65" fill="#089981"/>
<rect x="634.28" y="159.10" width="3.6" height="34.65" fill="#089981"/>
<rect x="640.34" y="158.75" width="0.65" height="17.85" fill="#f23645"/>
<rect x="638.87" y="159.00" width="3.6" height="14.75" fill="#f23645"/>
<rect x="644.93" y="86.90" width="0.65" height="89.10" fill="#089981"/>
<rect x="643.46" y="94.00" width="3.6" height="79.75" fill="#089981"/>
<rect x="649.52" y="94.00" width="0.65" height="22.50" fill="#f23645"/>
<rect x="648.04" y="94.00" width="3.6" height="7.60" fill="#f23645"/>
<rect x="654.10" y="77.90" width="0.65" height="32.10" fill="#089981"/>
<rect x="652.63" y="100.40" width="3.6" height="1.10" fill="#089981"/>
<rect x="658.69" y="98.50" width="0.65" height="60.90" fill="#f23645"/>
<rect x="657.22" y="101.00" width="3.6" height="53.00" fill="#f23645"/>
<rect x="663.28" y="120.10" width="0.65" height="42.30" fill="#089981"/>
<rect x="661.80" y="125.00" width="3.6" height="29.00" fill="#089981"/>
<rect x="667.87" y="116.10" width="0.65" height="23.90" fill="#f23645"/>
<rect x="666.39" y="125.00" width="3.6" height="11.75" fill="#f23645"/>
<rect x="672.45" y="120.10" width="0.65" height="26.50" fill="#089981"/>
<rect x="670.98" y="135.60" width="3.6" height="1.15" fill="#089981"/>
<rect x="677.04" y="135.20" width="0.65" height="33.30" fill="#f23645"/>
<rect x="675.57" y="136.10" width="3.6" height="19.90" fill="#f23645"/>
<rect x="681.63" y="149.00" width="0.65" height="20.20" fill="#089981"/>
<rect x="680.15" y="154.60" width="3.6" height="1.50" fill="#089981"/>
<rect x="686.21" y="138.10" width="0.65" height="16.90" fill="#089981"/>
<rect x="684.74" y="152.20" width="3.6" height="2.40" fill="#089981"/>
<rect x="690.80" y="139.00" width="0.65" height="36.30" fill="#f23645"/>
<rect x="689.33" y="152.20" width="3.6" height="10.00" fill="#f23645"/>
<rect x="695.39" y="149.00" width="0.65" height="20.10" fill="#089981"/>
<rect x="693.91" y="160.60" width="3.6" height="1.60" fill="#089981"/>
<rect x="699.97" y="138.90" width="0.65" height="27.20" fill="#089981"/>
<rect x="698.50" y="144.10" width="3.6" height="16.50" fill="#089981"/>
<rect x="704.56" y="140.00" width="0.65" height="28.40" fill="#f23645"/>
<rect x="703.09" y="144.10" width="3.6" height="20.50" fill="#f23645"/>
<rect x="709.15" y="139.00" width="0.65" height="30.75" fill="#089981"/>
<rect x="707.67" y="162.90" width="3.6" height="1.70" fill="#089981"/>
<rect x="713.74" y="160.25" width="0.65" height="12.00" fill="#f23645"/>
<rect x="712.26" y="163.10" width="3.6" height="4.65" fill="#f23645"/>
<rect x="718.32" y="159.10" width="0.65" height="8.65" fill="#089981"/>
<rect x="716.85" y="163.40" width="3.6" height="4.35" fill="#089981"/>
<rect x="722.91" y="153.10" width="0.65" height="13.80" fill="#089981"/>
<rect x="721.44" y="163.10" width="3.6" height="0.75" fill="#089981"/>
<rect x="727.50" y="153.10" width="0.65" height="13.80" fill="#089981"/>
<rect x="726.02" y="162.10" width="3.6" height="0.80" fill="#089981"/>
<rect x="732.08" y="143.75" width="0.65" height="22.15" fill="#089981"/>
<rect x="730.61" y="157.75" width="3.6" height="5.15" fill="#089981"/>
<rect x="736.67" y="140.00" width="0.65" height="18.10" fill="#089981"/>
<rect x="735.20" y="146.00" width="3.6" height="11.75" fill="#089981"/>
<line x1="7.5" y1="146.15" x2="784" y2="146.15" stroke="#089981" stroke-width="0.9" stroke-dasharray="0.75 1.55" opacity="0.7"/>
</g>
<!-- frame -->
<rect x="7.4" y="20.7" width="832.9" height="593.3" fill="none" stroke="#f1f1f1" stroke-width="1"/>
<!-- axis labels -->
<text x="792.17" y="572.79" font-size="9.6" font-weight="400" fill="#131722" stroke="#131722" opacity="1" style="letter-spacing:0.428px">1,200.00</text>
<text x="792.17" y="546.58" font-size="9.6" font-weight="400" fill="#131722" stroke="#131722" opacity="1" style="letter-spacing:0.428px">1,400.00</text>
<text x="792.17" y="520.37" font-size="9.6" font-weight="400" fill="#131722" stroke="#131722" opacity="1" style="letter-spacing:0.428px">1,600.00</text>
<text x="792.17" y="494.16" font-size="9.6" font-weight="400" fill="#131722" stroke="#131722" opacity="1" style="letter-spacing:0.428px">1,800.00</text>
<text x="792.17" y="467.95" font-size="9.6" font-weight="400" fill="#131722" stroke="#131722" opacity="1" style="letter-spacing:0.428px">2,000.00</text>
<text x="792.17" y="441.74" font-size="9.6" font-weight="400" fill="#131722" stroke="#131722" opacity="1" style="letter-spacing:0.428px">2,200.00</text>
<text x="792.17" y="415.53" font-size="9.6" font-weight="400" fill="#131722" stroke="#131722" opacity="1" style="letter-spacing:0.428px">2,400.00</text>
<text x="792.17" y="389.32" font-size="9.6" font-weight="400" fill="#131722" stroke="#131722" opacity="1" style="letter-spacing:0.428px">2,600.00</text>
<text x="792.17" y="363.11" font-size="9.6" font-weight="400" fill="#131722" stroke="#131722" opacity="1" style="letter-spacing:0.428px">2,800.00</text>
<text x="792.17" y="336.90" font-size="9.6" font-weight="400" fill="#131722" stroke="#131722" opacity="1" style="letter-spacing:0.428px">3,000.00</text>
<text x="792.17" y="310.69" font-size="9.6" font-weight="400" fill="#131722" stroke="#131722" opacity="1" style="letter-spacing:0.428px">3,200.00</text>
<text x="792.17" y="284.48" font-size="9.6" font-weight="400" fill="#131722" stroke="#131722" opacity="1" style="letter-spacing:0.428px">3,400.00</text>
<text x="792.17" y="258.27" font-size="9.6" font-weight="400" fill="#131722" stroke="#131722" opacity="1" style="letter-spacing:0.428px">3,600.00</text>
<text x="792.17" y="232.06" font-size="9.6" font-weight="400" fill="#131722" stroke="#131722" opacity="1" style="letter-spacing:0.428px">3,800.00</text>
<text x="792.17" y="205.85" font-size="9.6" font-weight="400" fill="#131722" stroke="#131722" opacity="1" style="letter-spacing:0.428px">4,000.00</text>
<text x="792.17" y="179.64" font-size="9.6" font-weight="400" fill="#131722" stroke="#131722" opacity="1" style="letter-spacing:0.428px">4,200.00</text>
<text x="792.17" y="127.22" font-size="9.6" font-weight="400" fill="#131722" stroke="#131722" opacity="1" style="letter-spacing:0.428px">4,600.00</text>
<text x="792.17" y="101.01" font-size="9.6" font-weight="400" fill="#131722" stroke="#131722" opacity="1" style="letter-spacing:0.428px">4,800.00</text>
<text x="792.17" y="74.80" font-size="9.6" font-weight="400" fill="#131722" stroke="#131722" opacity="1" style="letter-spacing:0.428px">5,000.00</text>
<text x="792.17" y="48.09" font-size="9.6" font-weight="400" fill="#131722" stroke="#131722" opacity="1" style="letter-spacing:0.428px">5,200.00</text>
<!-- USDT box mask -->
<rect x="786.6" y="21.3" width="53" height="25" fill="#fff"/>
<rect x="788.4" y="23.3" width="49.2" height="20.3" rx="3" ry="3" fill="#fff" stroke="#ededed" stroke-width="1"/>
<text x="795.07" y="36.70" font-size="9.7" font-weight="400" fill="#131722" stroke="#131722" opacity="1" textLength="25.17" lengthAdjust="spacingAndGlyphs">USDT</text>
<!-- price label -->
<path d="M786 139.5 H835.3 Q836.8 139.5 836.8 141 V161.4 Q836.8 162.9 835.3 162.9 H786 Z" fill="#089981"/>
<text x="792.18" y="148.60" font-size="9.5" font-weight="400" fill="#fff" stroke="#fff" opacity="1" style="letter-spacing:0.480px">4,435.43</text>
<text x="792.39" y="158.90" font-size="9.3" font-weight="400" fill="#fff" stroke="#fff" opacity="0.78" style="letter-spacing:0.531px">06:34:58</text>
<!-- vol label -->
<path d="M786 560.9 H833.4 Q834.9 560.9 834.9 562.4 V572.4 Q834.9 573.9 833.4 573.9 H786 Z" fill="#26a69a"/>
<text x="792.28" y="570.50" font-size="9.5" font-weight="400" fill="#fff" stroke="#fff" opacity="1" style="letter-spacing:0.617px">372.89</text>
<text x="825.13" y="570.50" font-size="9.5" font-weight="400" fill="#fff" stroke="#fff" opacity="1" style="letter-spacing:0.000px">K</text>
<!-- legend/header text -->
<g class="hv">
<text x="7.47" y="15.30" font-size="9.6" font-weight="400" fill="#131722" stroke="#131722" opacity="1" style="letter-spacing:-0.009px">Created with</text>
<text x="65.47" y="15.30" font-size="9.6" font-weight="400" fill="#131722" stroke="#131722" opacity="1" style="letter-spacing:0.069px">TradingView.com,</text>
<text x="144.87" y="15.30" font-size="9.6" font-weight="400" fill="#131722" stroke="#131722" opacity="1" style="letter-spacing:0.589px">Sep</text>
<text x="166.67" y="15.30" font-size="9.6" font-weight="400" fill="#131722" stroke="#131722" opacity="1" textLength="10.86" lengthAdjust="spacingAndGlyphs">11,</text>
<text x="180.47" y="15.30" font-size="9.6" font-weight="400" fill="#131722" stroke="#131722" opacity="1" style="letter-spacing:-0.096px">2025</text>
<text x="204.07" y="15.30" font-size="9.6" font-weight="400" fill="#131722" stroke="#131722" opacity="1" textLength="21.96" lengthAdjust="spacingAndGlyphs">17:25</text>
<text x="228.87" y="15.30" font-size="9.6" font-weight="400" fill="#131722" stroke="#131722" opacity="1" textLength="18.66" lengthAdjust="spacingAndGlyphs">UTC</text>
<text x="13.63" y="36.30" font-size="9.4" font-weight="400" fill="#131722" stroke="#131722" opacity="1" style="letter-spacing:-0.110px">Ethereum</text>
<text x="57.95" y="36.30" font-size="9.4" font-weight="400" fill="#131722" stroke="#131722" opacity="1" style="letter-spacing:0.000px">/</text>
<text x="63.28" y="36.30" font-size="9.4" font-weight="400" fill="#131722" stroke="#131722" opacity="1" style="letter-spacing:0.165px">TetherUS</text>
<text x="105.64" y="36.30" font-size="9.4" font-weight="400" fill="#131722" stroke="#131722" opacity="1" style="letter-spacing:0.000px">·</text>
<text x="111.38" y="36.30" font-size="9.4" font-weight="400" fill="#131722" stroke="#131722" opacity="1" textLength="11.43" lengthAdjust="spacingAndGlyphs">1D</text>
<text x="124.44" y="36.30" font-size="9.4" font-weight="400" fill="#131722" stroke="#131722" opacity="1" style="letter-spacing:0.000px">·</text>
<text x="130.23" y="36.30" font-size="9.4" font-weight="400" fill="#131722" stroke="#131722" opacity="1" style="letter-spacing:0.032px">Binance</text>
<text x="169.55" y="36.30" font-size="9.4" font-weight="400" fill="#131722" stroke="#131722" opacity="1" style="letter-spacing:0.000px">O</text>
<text x="176.88" y="36.30" font-size="9.4" font-weight="400" fill="#089981" stroke="#089981" opacity="1" style="letter-spacing:0.405px">4,349.33</text>
<text x="221.31" y="36.30" font-size="9.4" font-weight="400" fill="#131722" stroke="#131722" opacity="1" style="letter-spacing:0.000px">H</text>
<text x="227.78" y="36.30" font-size="9.4" font-weight="400" fill="#089981" stroke="#089981" opacity="1" style="letter-spacing:0.191px">4,481.09</text>
<text x="271.09" y="36.30" font-size="9.4" font-weight="400" fill="#131722" stroke="#131722" opacity="1" style="letter-spacing:0.000px">L</text>
<text x="276.08" y="36.30" font-size="9.4" font-weight="400" fill="#089981" stroke="#089981" opacity="1" style="letter-spacing:0.376px">4,338.82</text>
<text x="319.81" y="36.30" font-size="9.4" font-weight="400" fill="#131722" stroke="#131722" opacity="1" style="letter-spacing:0.000px">C</text>
<text x="326.28" y="36.30" font-size="9.4" font-weight="400" fill="#089981" stroke="#089981" opacity="1" style="letter-spacing:0.462px">4,435.43</text>
<text x="370.78" y="36.30" font-size="9.4" font-weight="400" fill="#089981" stroke="#089981" opacity="1" style="letter-spacing:-0.003px">+86.11</text>
<text x="402.28" y="36.30" font-size="9.4" font-weight="400" fill="#089981" stroke="#089981" opacity="1" style="letter-spacing:0.075px">(+1.98%)</text>
<text x="13.63" y="48.80" font-size="9.4" font-weight="400" fill="#131722" stroke="#131722" opacity="1" style="letter-spacing:0.619px">Vol</text>
<text x="29.74" y="48.80" font-size="9.4" font-weight="400" fill="#131722" stroke="#131722" opacity="1" style="letter-spacing:0.000px">·</text>
<text x="34.98" y="48.80" font-size="9.4" font-weight="400" fill="#131722" stroke="#131722" opacity="1" textLength="18.03" lengthAdjust="spacingAndGlyphs">ETH</text>
<text x="58.54" y="48.80" font-size="9.4" font-weight="400" fill="#26a69a" stroke="#26a69a" opacity="1" style="letter-spacing:0.197px">372.89</text>
<text x="90.07" y="48.80" font-size="9.4" font-weight="400" fill="#26a69a" stroke="#26a69a" opacity="1" style="letter-spacing:0.000px">K</text>
</g>
<!-- months -->
<text x="117.13" y="607.70" font-size="9.9" font-weight="700" fill="#131722" stroke="#131722" opacity="1" style="letter-spacing:0.185px">May</text>
<text x="260.58" y="607.70" font-size="9.9" font-weight="700" fill="#131722" stroke="#131722" opacity="1" style="letter-spacing:-0.237px">Jun</text>
<text x="399.74" y="607.70" font-size="9.9" font-weight="700" fill="#131722" stroke="#131722" opacity="1" style="letter-spacing:-0.146px">Jul</text>
<text x="539.88" y="607.70" font-size="9.9" font-weight="700" fill="#131722" stroke="#131722" opacity="1" textLength="18.09" lengthAdjust="spacingAndGlyphs">Aug</text>
<text x="682.08" y="607.70" font-size="9.9" font-weight="700" fill="#131722" stroke="#131722" opacity="1" style="letter-spacing:-0.018px">Sep</text>
<!-- lightning -->
<circle cx="737.05" cy="583" r="8.6" fill="#fff"/>
<circle cx="737.05" cy="583" r="7.5" fill="#fff" stroke="#9c27b0" stroke-width="1.2"/>
<path d="M738.5 579.0 L740.1 579.5 L737.9 582.2 L740.5 582.4 L735.7 587.1 L734.4 586.5 L736.5 583.8 L733.8 583.5 Z" fill="#9c27b0"/>
<!-- logo -->
<g fill="#131722">
<path d="M9.1 631.2 H17.8 V642 H13.5 V635.7 H9.1 Z"/>
<circle cx="21.2" cy="633.35" r="2.3"/>
<path d="M24.8 631.2 H31.4 L27.2 642 H22.6 Z"/>
</g>
<text x="37.44" y="642.00" font-size="15.7" font-weight="700" fill="#131722" stroke="#131722" opacity="1" style="letter-spacing:0.010px">TradingView</text>
</svg>
</body></html>
